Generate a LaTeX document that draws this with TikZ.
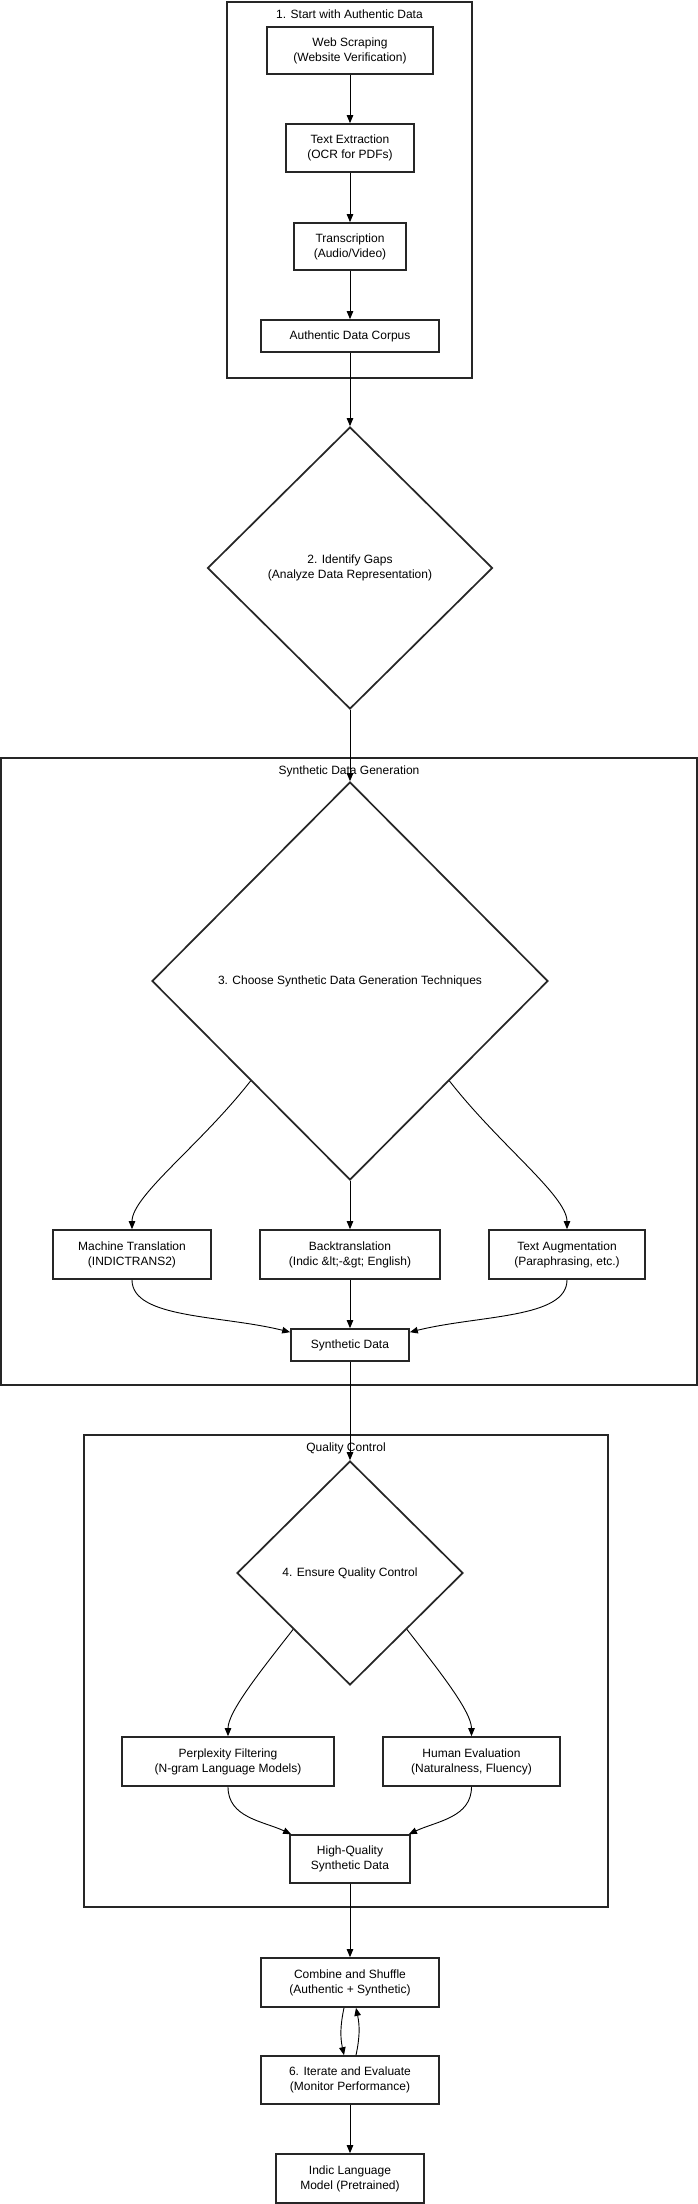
\documentclass[tikz,border=0pt]{standalone}
\usepackage{fontspec}
\setmainfont{Liberation Sans}
\usetikzlibrary{arrows.meta,shapes.geometric,positioning,calc}
\tikzset{
    flow-box/.style = {draw=black!85, fill=white, line width=1.7pt, rectangle, align=center, inner sep=0pt},
    decision-diamond/.style = {draw=black!85, fill=white, line width=1.7pt, diamond, align=center, inner sep=0pt},
    group-box/.style = {draw=black!85, line width=1.6pt, rectangle, inner sep=0pt},
    group-title/.style = {inner sep=0pt, text height=9pt, text depth=3pt},
    flow-arrow/.style = {draw=black, line width=0.9pt, -{Triangle[length=8pt,width=6.5pt]}},
}

\begin{document}
\begin{tikzpicture}[x=1pt, y=1pt, every node/.style={font=\fontsize{12}{15}\selectfont}]
\useasboundingbox (0,0) rectangle (698,-2204);

% authentic data
\node[group-box, minimum width=245pt, minimum height=376pt] (authentic) at (349.5,-190) {};
\node[group-title, below=8.5pt] at (authentic.north) {1. Start with Authentic Data};
\node[flow-box, minimum width=166pt, minimum height=47pt] (web) at (350,-50.5) {Web Scraping\\(Website Verification)};
\node[flow-box, minimum width=128pt, minimum height=48pt] (ocr) at (350,-148) {Text Extraction\\(OCR for PDFs)};
\node[flow-box, minimum width=112pt, minimum height=47pt] (transcribe) at (350,-246.5) {Transcription\\(Audio/Video)};
\node[flow-box, minimum width=178pt, minimum height=32pt] (corpus) at (350,-336) {Authentic Data Corpus};

\node[decision-diamond, minimum width=285pt, minimum height=282pt] (gaps) at (350,-568) {2. Identify Gaps\\(Analyze Data Representation)};

% synthetic data generation
\node[group-box, minimum width=696pt, minimum height=627pt] (synthgen) at (349,-1071.5) {};
\node[group-title, below=8.5pt] at (synthgen.north) {Synthetic Data Generation};
\node[decision-diamond, minimum width=396pt, minimum height=398pt] (choose) at (350,-981) {3. Choose Synthetic Data Generation Techniques};
\node[flow-box, minimum width=158pt, minimum height=49pt] (mt) at (132,-1254.5) {Machine Translation\\(INDICTRANS2)};
\node[flow-box, minimum width=180pt, minimum height=49pt] (bt) at (350,-1254.5) {Backtranslation\\(Indic \&lt;-\&gt; English)};
\node[flow-box, minimum width=156pt, minimum height=49pt] (aug) at (567,-1254.5) {Text Augmentation\\(Paraphrasing, etc.)};
\node[flow-box, minimum width=118pt, minimum height=32pt] (synth) at (350,-1345) {Synthetic Data};

% quality control
\node[group-box, minimum width=524pt, minimum height=472pt] (qc) at (346,-1671) {};
\node[group-title, below=8.5pt] at (qc.north) {Quality Control};
\node[decision-diamond, minimum width=226pt, minimum height=224pt] (ensure) at (350,-1573) {4. Ensure Quality Control};
\node[flow-box, minimum width=212pt, minimum height=49pt] (perplex) at (228,-1761.5) {Perplexity Filtering\\(N-gram Language Models)};
\node[flow-box, minimum width=177pt, minimum height=49pt] (human) at (471.5,-1761.5) {Human Evaluation\\(Naturalness, Fluency)};
\node[flow-box, minimum width=120pt, minimum height=48pt] (hq) at (350,-1859) {High-Quality\\Synthetic Data};

\node[flow-box, minimum width=178pt, minimum height=49pt] (combine) at (350,-1982.5) {Combine and Shuffle\\(Authentic + Synthetic)};
\node[flow-box, minimum width=178pt, minimum height=48pt] (iterate) at (350,-2080) {6. Iterate and Evaluate\\(Monitor Performance)};
\node[flow-box, minimum width=148pt, minimum height=49pt] (model) at (350,-2178.5) {Indic Language\\Model (Pretrained)};

% connectors
\draw[flow-arrow] (web.south) -- (ocr.north);
\draw[flow-arrow] (ocr.south) -- (transcribe.north);
\draw[flow-arrow] (transcribe.south) -- (corpus.north);
\draw[flow-arrow] (corpus.south) -- (gaps.north);
\draw[flow-arrow] (gaps.south) -- (choose.north);
\draw[flow-arrow] ($(choose.west)!0.5!(choose.south)$) to[out=-128, in=90, out looseness=1.1, in looseness=0.45] (mt.north);
\draw[flow-arrow] (choose.south) -- (bt.north);
\draw[flow-arrow] ($(choose.east)!0.5!(choose.south)$) to[out=-52, in=90, out looseness=1.1, in looseness=0.45] (aug.north);
\draw[flow-arrow] (mt.south) to[out=-90, in=166, out looseness=0.6, in looseness=1.1] ($(synth.north west)+(0,-4)$);
\draw[flow-arrow] (bt.south) -- (synth.north);
\draw[flow-arrow] (aug.south) to[out=-90, in=14, out looseness=0.6, in looseness=1.1] ($(synth.north east)+(0,-4)$);
\draw[flow-arrow] (synth.south) -- (ensure.north);
\draw[flow-arrow] ($(ensure.west)!0.5!(ensure.south)$) to[out=-128, in=90, out looseness=1.1, in looseness=0.5] (perplex.north);
\draw[flow-arrow] ($(ensure.east)!0.5!(ensure.south)$) to[out=-52, in=90, out looseness=1.1, in looseness=0.5] (human.north);
\draw[flow-arrow] (perplex.south) to[out=-90, in=155] ($(hq.north west)+(2,0)$);
\draw[flow-arrow] (human.south) to[out=-90, in=25] ($(hq.north east)+(-2,0)$);
\draw[flow-arrow] (hq.south) -- (combine.north);
\draw[flow-arrow] ($(combine.south)+(-6,0)$) to[bend right=12] ($(iterate.north)+(-6,0)$);
\draw[flow-arrow] ($(iterate.north)+(6,0)$) to[bend right=12] ($(combine.south)+(6,0)$);
\draw[flow-arrow] (iterate.south) -- (model.north);
\end{tikzpicture}
\end{document}
